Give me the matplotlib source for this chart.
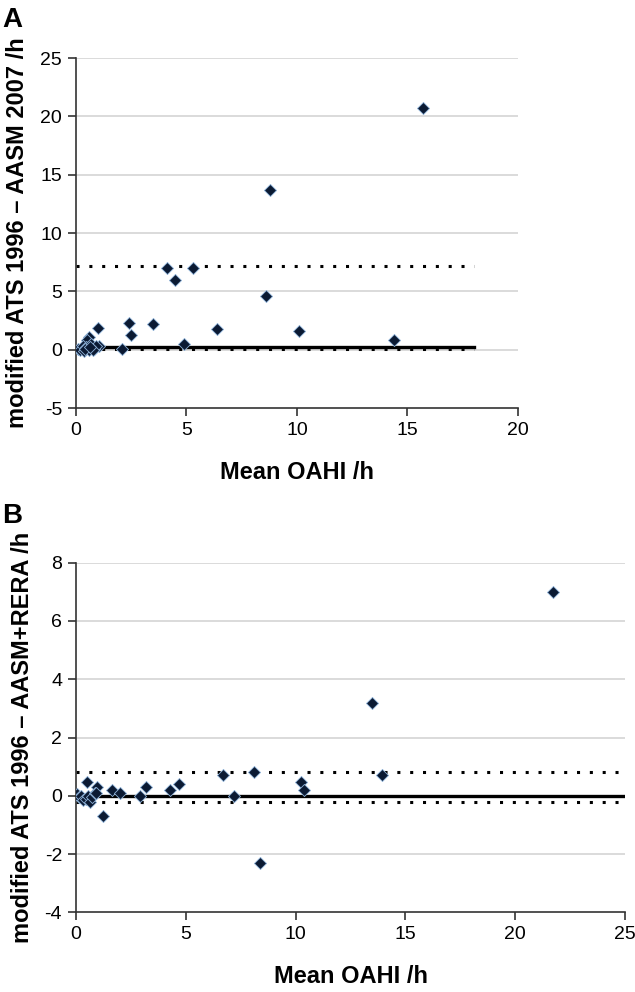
import numpy as np
import matplotlib
matplotlib.use("Agg")
import matplotlib.pyplot as plt

plt.rcParams['font.family'] = ['Liberation Sans Narrow', 'Liberation Sans', 'DejaVu Sans']
plt.rcParams['axes.unicode_minus'] = False

# Panel A: modified ATS 1996 - AASM 2007
a_x = [15.7, 8.8, 4.1, 5.3, 4.5, 8.6, 3.5, 2.4, 2.5, 6.4, 10.1, 14.4, 4.9, 1.0, 2.1,
       0.6, 0.5, 1.05, 0.1, 0.2, 0.3, 0.35, 0.45, 0.6, 0.7, 0.8, 0.9, 0.75, 0.4, 0.65]
a_y = [20.7, 13.7, 7.0, 7.0, 6.0, 4.6, 2.2, 2.3, 1.3, 1.8, 1.6, 0.8, 0.45, 1.9, 0.1,
       1.1, 0.8, 0.3, 0.1, 0.0, 0.3, -0.1, 0.2, 0.0, 0.5, 0.1, 0.3, -0.05, 0.1, 0.2]
a_mean = 0.25
a_upper = 7.15
a_lower = 0.05
a_line_end = 18

# Panel B: modified ATS 1996 - AASM+RERA
b_x = [21.7, 13.5, 13.95, 8.4, 8.1, 6.7, 7.2, 10.25, 10.4, 4.3, 4.7, 2.9, 3.2, 1.65, 2.0,
       1.22, 0.5, 0.94, 0.05, 0.15, 0.25, 0.3, 0.45, 0.55, 0.65, 0.75, 0.85, 0.9]
b_y = [7.0, 3.2, 0.7, -2.3, 0.8, 0.7, 0.0, 0.48, 0.2, 0.2, 0.4, 0.0, 0.3, 0.2, 0.08,
       -0.7, 0.48, 0.31, 0.05, -0.05, 0.0, -0.15, -0.1, 0.0, -0.2, -0.05, 0.1, 0.08]
b_mean = 0.0
b_upper = 0.8
b_lower = -0.2
b_line_end = 25

fig = plt.figure(figsize=(6.35, 9.92), dpi=100)

def draw_panel(ax, x, y, mean, upper, lower, line_end, xlim, ylim, yticks, ylabel):
    for t in yticks[1:]:
        ax.axhline(t, color='#d4d4d4', lw=1.2, zorder=0)
    ax.plot([0, line_end], [mean, mean], color='black', lw=2.4, zorder=2)
    ax.plot([0, line_end], [upper, upper], color='black', lw=2.2, ls=(0, (1, 3.2)), zorder=2)
    ax.plot([0, line_end], [lower, lower], color='black', lw=2.2, ls=(0, (1, 3.2)), zorder=2)
    ax.scatter(x, y, marker='D', s=38, color='#0b1a33', edgecolors='#8fb3d9',
               linewidths=0.6, zorder=3)
    ax.set_xlim(xlim)
    ax.set_ylim(ylim)
    ax.set_yticks(yticks)
    ax.set_xticks(np.arange(xlim[0], xlim[1] + 1, 5))
    ax.spines['top'].set_visible(False)
    ax.spines['right'].set_visible(False)
    for s in ['left', 'bottom']:
        ax.spines[s].set_color('#333333')
        ax.spines[s].set_linewidth(1.2)
    ax.tick_params(direction='out', length=6, width=1.2, color='#333333',
                   labelsize=14, pad=4)
    ax.set_xlabel('Mean OAHI /h', fontsize=17, fontweight='bold', labelpad=16)
    ax.set_ylabel(ylabel, fontsize=17, fontweight='bold', labelpad=8)

ax1 = fig.add_axes([0.1197, 0.5887, 0.696, 0.3528])
draw_panel(ax1, a_x, a_y, a_mean, a_upper, a_lower, a_line_end,
           (0, 20), (-5, 25), list(range(-5, 26, 5)),
           'modified ATS 1996 \u2013 AASM 2007 /h')

ax2 = fig.add_axes([0.1197, 0.0803, 0.8646, 0.3525])
draw_panel(ax2, b_x, b_y, b_mean, b_upper, b_lower, b_line_end,
           (0, 25), (-4, 8), list(range(-4, 9, 2)),
           'modified ATS 1996 \u2013 AASM+RERA /h')

fig.text(0.003, 0.993, 'A', fontsize=20, fontweight='bold', va='top', ha='left')
fig.text(0.003, 0.493, 'B', fontsize=20, fontweight='bold', va='top', ha='left')

fig.savefig('out.png', dpi=100)
